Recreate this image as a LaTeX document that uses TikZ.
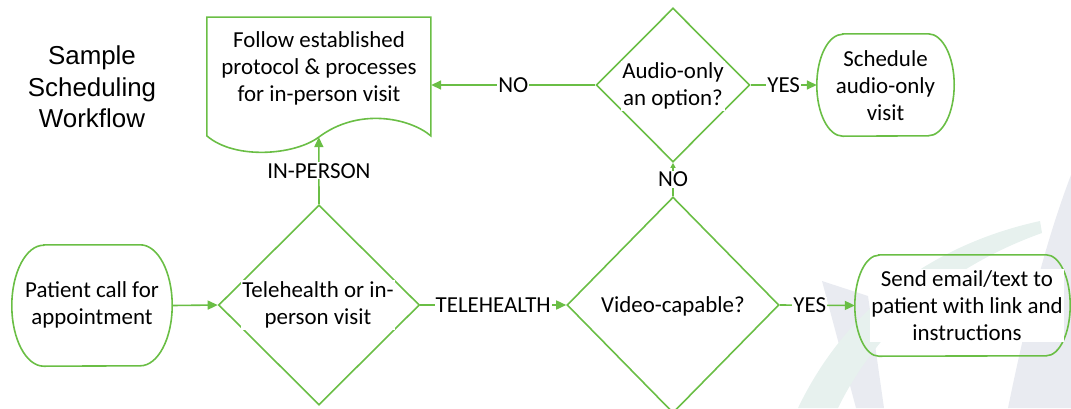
\documentclass[tikz,border=0pt]{standalone}
\usepackage{fontspec}
\setmainfont{Carlito}
\newfontfamily\titlefont{Liberation Sans}
\usetikzlibrary{shapes.geometric,arrows.meta}
\definecolor{grn}{RGB}{106,190,69}
\definecolor{wmgray}{RGB}{233,235,241}
\definecolor{wmteal}{RGB}{231,241,238}
% terminal outline: node name, corner x radius, corner y radius
\newcommand\drawterm[3]{%
  \draw[ln] ([xshift=#2]#1.north west) -- ([xshift=-#2]#1.north east)
    arc[start angle=90, end angle=-90, x radius=#2, y radius=#3]
    -- ([xshift=#2]#1.south west)
    arc[start angle=270, end angle=90, x radius=#2, y radius=#3] -- cycle;}
\begin{document}
\begin{tikzpicture}[x=1bp,y=-1bp,
  every node/.style={font=\fontsize{23}{27}\selectfont, align=center, text=black},
  ln/.style={draw=grn, line width=1.6bp},
  arr/.style={ln, -{Triangle[length=10bp,width=9bp]}},
  tiparr/.style={ln, -{Triangle[length=5bp,width=5bp]}},
  decision/.style={diamond, draw=grn, line width=1.6bp, inner sep=0pt},
  holder/.style={draw=none, inner sep=0pt},
  txt/.style={fill=white, inner sep=1.5bp},
  lbl/.style={fill=white, inner xsep=1bp, inner ysep=1bp},
]
\useasboundingbox (0,0) rectangle (1071,408);
% faint watermark
\fill[wmgray] (1071,175) -- (1071,408) -- (1008,408) .. controls (1028,310) and (1048,235) .. (1071,175) -- cycle;
\fill[wmgray] (822,281) -- (868,296) -- (884,408) -- (856,408) -- cycle;
\fill[wmteal] (1040,221) .. controls (930,245) and (845,310) .. (798,408) -- (838,408) .. controls (880,322) and (955,264) .. (1042,233) -- cycle;

% title
\node[font=\titlefont\fontsize{26}{31.5}\selectfont] (title) at (92,87) {Sample\\Scheduling\\Workflow};

% document shape
\node[holder, minimum width=224bp, minimum height=118.7bp] (doc) at (319,76.65) {};
\begin{scope}[shift={(doc.north west)}]
  \draw[ln] (0,0) -- (0,118.7) .. controls (28,143) and (88,138) .. (112,120)
     .. controls (152,90) and (203,101) .. (224,118.7) -- (224,0) -- cycle;
  \coordinate (wave) at (112,120);
\end{scope}
\node[txt] (doctext) at (319,68.3) {Follow established\\protocol \& processes\\for in-person visit};

% decisions
\node[decision, minimum width=153.5bp, minimum height=154bp] (audio) at (673,85) {};
\node[txt] (audiotext) at (673,86) {Audio-only\\an option?};
\node[decision, minimum width=201bp, minimum height=200bp] (tele) at (319,305) {};
\node[txt] (teletext) at (318,305) {Telehealth or in-\\person visit};
\node[decision, minimum width=212bp, minimum height=216bp] (video) at (673,305) {};
\node[txt] (videotext) at (673,306) {Video-capable?};

% terminals
\node[holder, minimum width=160bp, minimum height=121bp] (patient) at (92,305.5) {};
\drawterm{patient}{32bp}{60.5bp}
\node[txt] (patienttext) at (92,305) {Patient call for\\appointment};
\node[holder, minimum width=137bp, minimum height=102bp] (sched) at (885.5,85) {};
\drawterm{sched}{26bp}{51bp}
\node[txt] (schedtext) at (885.5,85.5) {Schedule\\audio-only\\visit};
\node[holder, minimum width=215bp, minimum height=101bp] (send) at (962.5,305.5) {};
\drawterm{send}{24bp}{50.5bp}
\node[txt] (sendtext) at (967,305.5) {Send email/text to\\patient with link and\\instructions};

% connectors
\draw[arr] (patient.east) -- (tele.west);
\draw[arr] (tele.east) -- node[lbl] {TELEHEALTH} (video.west);
\draw[arr] (video.east) -- node[lbl, pos=0.4] {YES} (send.west);
\draw[tiparr] (video.north) -- node[lbl] {NO} (audio.south);
\draw[arr] (audio.east) -- node[lbl] {YES} (sched.west);
\draw[arr] (audio.west) -- node[lbl] {NO} (audio.west -| doc.east);
\draw[arr] (tele.north) -- node[lbl] {IN-PERSON} (wave);
\end{tikzpicture}
\end{document}
